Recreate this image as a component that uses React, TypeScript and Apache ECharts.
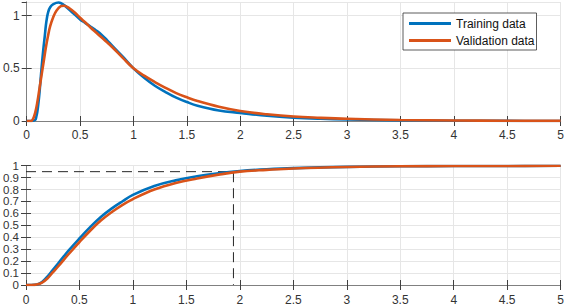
import React, { useEffect, useRef } from "react";
import * as echarts from "echarts";

const impulseTrainX = [0, 0.05, 0.08, 0.09, 0.1, 0.11, 0.12, 0.13, 0.14, 0.15, 0.16, 0.17, 0.18, 0.19, 0.2, 0.22, 0.25, 0.3, 0.35, 0.4, 0.45, 0.5, 0.55, 0.6, 0.65, 0.7, 0.75, 0.8, 0.9, 1.0, 1.1, 1.2, 1.3, 1.4, 1.5, 1.6, 1.8, 2.0, 2.25, 2.5, 2.75, 3, 3.5, 4, 4.5, 5];
const impulseTrainY = [0, 0, 0.01, 0.04, 0.09, 0.17, 0.27, 0.39, 0.51, 0.62, 0.72, 0.81, 0.91, 0.98, 1.03, 1.08, 1.11, 1.125, 1.1, 1.055, 1.01, 0.965, 0.93, 0.895, 0.86, 0.82, 0.77, 0.715, 0.61, 0.5, 0.41, 0.335, 0.275, 0.222, 0.18, 0.145, 0.1, 0.077, 0.05, 0.032, 0.021, 0.014, 0.006, 0.003, 0.001, 0];

const impulseValX = [0, 0.04, 0.06, 0.08, 0.1, 0.12, 0.14, 0.16, 0.18, 0.2, 0.22, 0.25, 0.28, 0.32, 0.35, 0.4, 0.45, 0.5, 0.55, 0.6, 0.65, 0.7, 0.75, 0.8, 0.9, 1.0, 1.1, 1.2, 1.3, 1.4, 1.5, 1.6, 1.8, 2.0, 2.25, 2.5, 2.75, 3, 3.5, 4, 4.5, 5];
const impulseValY = [0, 0, 0.02, 0.08, 0.18, 0.31, 0.44, 0.57, 0.7, 0.81, 0.9, 0.99, 1.05, 1.09, 1.095, 1.07, 1.03, 0.98, 0.935, 0.885, 0.84, 0.795, 0.75, 0.703, 0.6, 0.5, 0.43, 0.37, 0.315, 0.265, 0.225, 0.19, 0.135, 0.095, 0.064, 0.042, 0.03, 0.021, 0.01, 0.005, 0.002, 0.001];

const stepX = [0, 0.05, 0.1, 0.15, 0.2, 0.25, 0.3, 0.4, 0.5, 0.6, 0.7, 0.8, 0.9, 1.0, 1.2, 1.4, 1.6, 1.8, 2.0, 2.25, 2.5, 3, 3.5, 4, 4.5, 5];
const stepTrainY = [0, 0, 0.003, 0.025, 0.07, 0.125, 0.18, 0.29, 0.39, 0.485, 0.57, 0.64, 0.7, 0.755, 0.83, 0.877, 0.912, 0.937, 0.955, 0.97, 0.98, 0.99, 0.995, 0.997, 0.998, 0.999];
const stepValY = [0, 0, 0.004, 0.02, 0.055, 0.105, 0.155, 0.26, 0.36, 0.455, 0.54, 0.61, 0.67, 0.72, 0.8, 0.855, 0.893, 0.925, 0.95, 0.965, 0.977, 0.989, 0.995, 0.997, 0.998, 0.999];

const settleLevel = 0.95;
const settleTime = 1.94;
const xTicksMax = 5;
const seriesNames = ["Training data", "Validation data"];

const zip = (xs: number[], ys: number[]) => xs.map((x, i) => [x, ys[i]]);

export default function App() {
  const ref = useRef<HTMLDivElement>(null);
  useEffect(() => {
    const chart = echarts.init(ref.current!, null, { renderer: "svg" });
    const font = "Liberation Sans";
    const labelColor = "#333";
    const axisLine = { show: true, lineStyle: { color: "#808080", width: 1 } };
    const tick = (len: number) => ({ show: true, inside: true, length: len, lineStyle: { color: "#404040" } });
    const split = { show: true, lineStyle: { color: "#e6e6e6", width: 1 } };
    const xBase = (gridIndex: number, margin: number) => ({
      type: "value",
      gridIndex,
      min: 0,
      max: xTicksMax,
      interval: 0.5,
      axisLine,
      axisTick: tick(5),
      splitLine: split,
      axisLabel: { color: labelColor, fontFamily: font, fontSize: 12, margin },
    });
    const xTop = (gridIndex: number) => ({
      type: "value",
      gridIndex,
      position: "top",
      min: 0,
      max: xTicksMax,
      interval: 0.5,
      axisLine,
      axisTick: tick(5),
      splitLine: { show: false },
      axisLabel: { show: false },
    });
    const lineSeries = (name: string, color: string, data: number[][], xi: number, yi: number) => ({
      name,
      type: "line",
      xAxisIndex: xi,
      yAxisIndex: yi,
      data,
      showSymbol: false,
      symbol: "none",
      smooth: 0.4,
      lineStyle: { color, width: 2.6 },
      itemStyle: { color },
      z: 3,
    });
    chart.setOption({
      animation: false,
      backgroundColor: "#fff",
      grid: [
        { left: 25, right: 5, top: 2, height: 119, show: false },
        { left: 25, right: 5, top: 165.7, height: 120, show: false },
      ],
      legend: {
        data: seriesNames,
        left: 403,
        top: 13,
        orient: "vertical",
        icon: "rect",
        itemWidth: 42,
        itemHeight: 3,
        itemGap: 4,
        padding: [4, 2, 3, 6],
        backgroundColor: "#fff",
        borderColor: "#333",
        borderWidth: 0.8,
        textStyle: { fontFamily: font, fontSize: 12, color: "#111", lineHeight: 13 },
      },
      xAxis: [xBase(0, 8), xTop(0), xBase(1, 9), xTop(1)],
      yAxis: [
        {
          type: "value",
          gridIndex: 0,
          min: 0,
          max: 1.13,
          interval: 0.5,
          axisLine,
          axisTick: tick(5),
          splitLine: split,
          axisLabel: { color: labelColor, fontFamily: font, fontSize: 12, margin: 7, showMaxLabel: false },
        },
        {
          type: "value",
          gridIndex: 0,
          position: "right",
          min: 0,
          max: 1.13,
          interval: 0.5,
          axisLine,
          axisTick: tick(5),
          splitLine: { show: false },
          axisLabel: { show: false },
        },
        {
          type: "value",
          gridIndex: 1,
          min: 0,
          max: 1,
          interval: 0.1,
          axisLine,
          axisTick: tick(5),
          splitLine: split,
          axisLabel: { color: labelColor, fontFamily: font, fontSize: 11.5, lineHeight: 11, margin: 7 },
        },
        {
          type: "value",
          gridIndex: 1,
          position: "right",
          min: 0,
          max: 1,
          interval: 0.1,
          axisLine,
          axisTick: tick(5),
          splitLine: { show: false },
          axisLabel: { show: false },
        },
      ],
      series: [
        lineSeries(seriesNames[0], "#0072BD", zip(impulseTrainX, impulseTrainY), 0, 0),
        lineSeries(seriesNames[1], "#D95319", zip(impulseValX, impulseValY), 0, 0),
        {
          type: "line",
          xAxisIndex: 2,
          yAxisIndex: 2,
          data: [[0, settleLevel], [settleTime, settleLevel], [settleTime, 0]],
          symbol: "none",
          lineStyle: { color: "#262626", width: 1, type: [10, 6] },
          z: 2,
        },
        lineSeries(seriesNames[0], "#0072BD", zip(stepX, stepTrainY), 2, 2),
        lineSeries(seriesNames[1], "#D95319", zip(stepX, stepValY), 2, 2),
      ],
    });
    return () => chart.dispose();
  }, []);
  return <div ref={ref} style={{ position: "absolute", left: 0, top: 0, width: 567, height: 306 }} />;
}
